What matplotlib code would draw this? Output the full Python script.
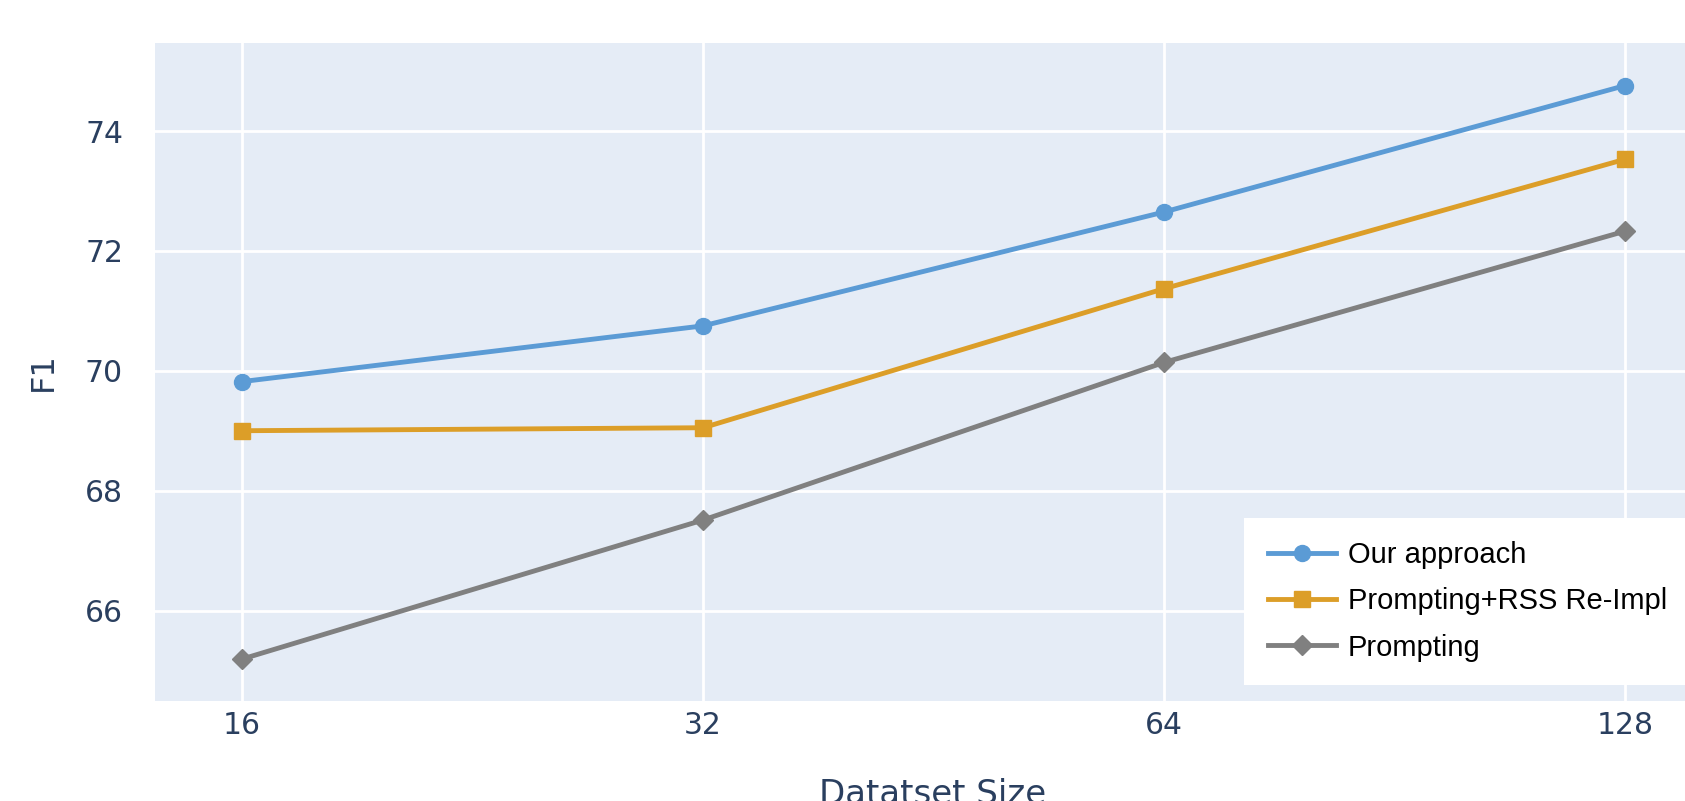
import matplotlib
matplotlib.use("Agg")
import matplotlib.pyplot as plt
from matplotlib.ticker import FixedLocator, NullLocator

# data
dataset_sizes = [16, 32, 64, 128]
our_approach = [69.82, 70.75, 72.65, 74.76]
prompting_rss = [69.00, 69.05, 71.37, 73.53]
prompting = [65.19, 67.51, 70.14, 72.33]

series_names = ["Our approach", "Prompting+RSS Re-Impl", "Prompting"]
series_colors = ["#5b9bd5", "#dc9e28", "#808080"]
series_markers = ["o", "s", "D"]
y_ticks = [66, 68, 70, 72, 74]

bg = "#e5ecf6"
text_col = "#2a3f5f"

fig = plt.figure(figsize=(16.85, 8.01), dpi=100)
ax = fig.add_axes([155 / 1685, 1 - 701 / 801, 1 - 155 / 1685, (701 - 43) / 801])
ax.set_facecolor(bg)

for vals, name, col, mk in zip([our_approach, prompting_rss, prompting],
                               series_names, series_colors, series_markers):
    ms = 10.5 if mk == "D" else 11.5
    ax.plot(dataset_sizes, vals, color=col, lw=3.5, marker=mk, ms=ms,
            label=name, zorder=3)

ax.set_xscale("log", base=2)
ax.set_xlim(2 ** 3.811, 2 ** 7.13)
ax.set_ylim(64.49, 75.47)
ax.xaxis.set_major_locator(FixedLocator(dataset_sizes))
ax.xaxis.set_minor_locator(NullLocator())
ax.set_xticklabels([str(s) for s in dataset_sizes])
ax.set_yticks(y_ticks)

ax.grid(True, color="white", lw=2)
ax.set_axisbelow(True)
for sp in ax.spines.values():
    sp.set_visible(False)
ax.tick_params(axis="both", length=0, labelsize=21.5, labelcolor=text_col)
ax.tick_params(axis="x", pad=7)
ax.tick_params(axis="y", pad=23)

ax.set_ylabel("F1", fontsize=23, color=text_col)
ax.yaxis.set_label_coords(-0.063, 0.5)
fig.text(933 / 1685, 1 - 794 / 801, "Datatset Size", fontsize=24.5,
         color=text_col, ha="center", va="center")

leg = ax.legend(loc="upper left", bbox_to_anchor=(0.712, 0.032, 0.288, 0.246),
                mode="expand", fancybox=False, frameon=True, framealpha=1,
                edgecolor="white",
                prop={"family": "Liberation Sans", "size": 21},
                handlelength=2.35, handletextpad=0.4, labelspacing=0.62,
                borderpad=0.8, borderaxespad=0)
leg.get_frame().set_linewidth(0)

fig.savefig("out.png", dpi=100)
